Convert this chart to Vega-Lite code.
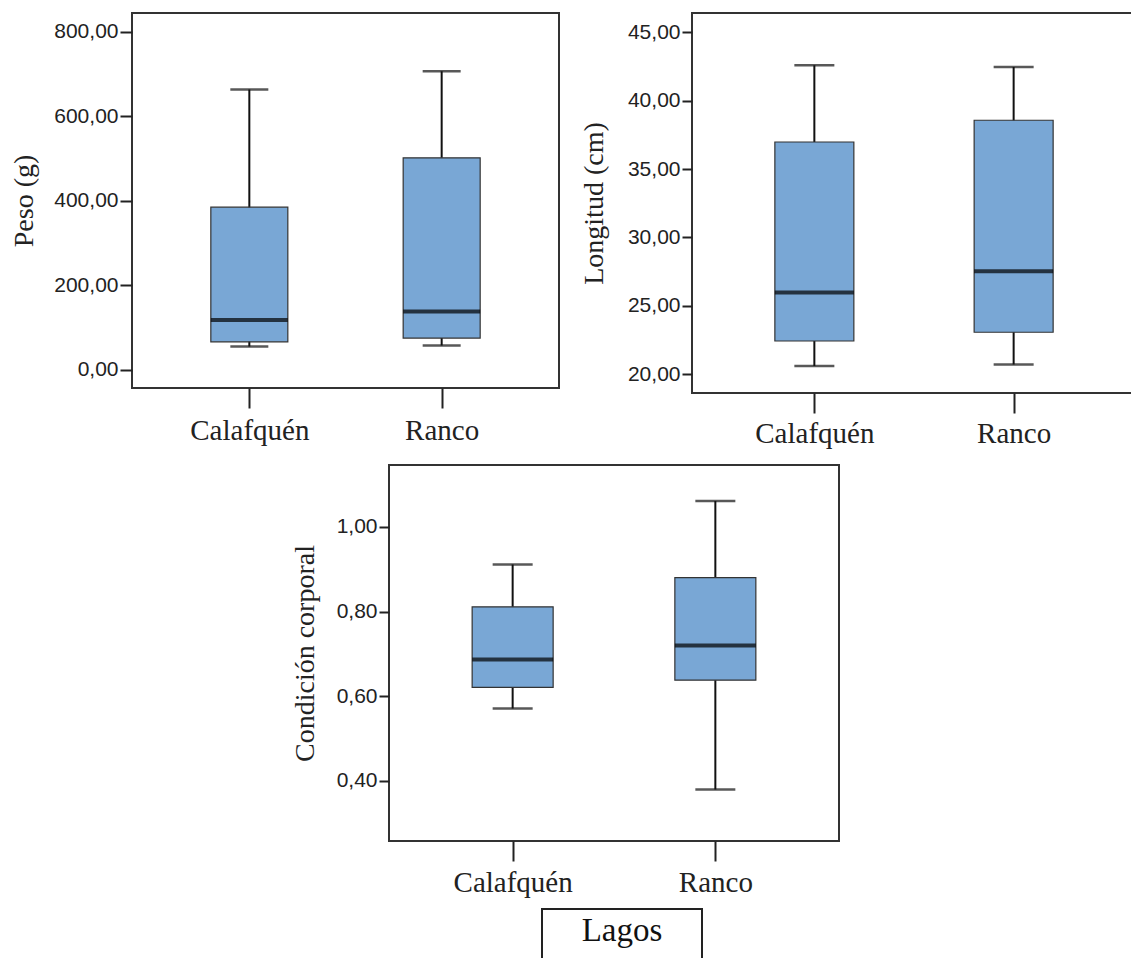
{
  "$schema": "https://vega.github.io/schema/vega-lite/v6.json",
  "padding": {"left": 9, "top": 12, "right": 0, "bottom": 0},
  "background": "white",
  "config": {
    "locale": {"number": {"decimal": ",", "thousands": ".", "grouping": [3], "currency": ["", ""]}},
    "view": {"stroke": "#333333", "strokeWidth": 2},
    "axis": {"grid": false, "domain": false, "tickColor": "#222222", "tickWidth": 2, "labelColor": "#222222", "titleColor": "#222222"}
  },
  "columns": 1, "bounds": "full", "spacing": 15,
  "concat": [
    {
      "align": "none", "bounds": "flush", "spacing": 133,
      "concat": [
        {
          "width": 427, "height": 375,
          "data": {"values": [
            {"lago": "Calafquén", "min": 55, "q1": 66, "med": 118, "q3": 385, "max": 664},
            {"lago": "Ranco", "min": 57.5, "q1": 75, "med": 138, "q3": 502, "max": 707}
          ]},
          "encoding": {"x": {"field": "lago", "type": "nominal", "scale": {"type": "point", "padding": 0.61}, "axis": {"title": null, "labelAngle": 0, "labelFont": "Liberation Serif", "labelFontSize": 29, "tickSize": 20, "labelPadding": 8}}},
          "layer": [
            {"mark": {"type": "rule", "color": "#111111", "strokeWidth": 2},
             "encoding": {"y": {"field": "min", "type": "quantitative", "title": "Peso (g)", "scale": {"domain": [-43.3, 845], "nice": false, "zero": false}, "axis": {"values": [0, 200, 400, 600, 800], "format": ".2f", "labelFont": "Liberation Sans", "labelFontSize": 21, "tickSize": 12, "labelPadding": 2, "titleFont": "Liberation Serif", "titleFontSize": 28, "titleFontWeight": "normal", "titlePadding": 15}}, "y2": {"field": "max"}}},
            {"mark": {"type": "tick", "color": "#111111", "thickness": 2.5, "size": 38},
             "encoding": {"y": {"field": "min", "type": "quantitative", "title": "Peso (g)", "scale": {"domain": [-43.3, 845], "nice": false, "zero": false}}}},
            {"mark": {"type": "tick", "color": "#111111", "thickness": 2.5, "size": 38},
             "encoding": {"y": {"field": "max", "type": "quantitative", "title": "Peso (g)", "scale": {"domain": [-43.3, 845], "nice": false, "zero": false}}}},
            {"mark": {"type": "bar", "size": 77, "fill": "#79a7d5", "stroke": "#333333", "strokeWidth": 1.2},
             "encoding": {"y": {"field": "q1", "type": "quantitative", "title": "Peso (g)", "scale": {"domain": [-43.3, 845], "nice": false, "zero": false}}, "y2": {"field": "q3"}}},
            {"mark": {"type": "tick", "color": "#000000", "thickness": 4, "size": 77},
             "encoding": {"y": {"field": "med", "type": "quantitative", "title": "Peso (g)", "scale": {"domain": [-43.3, 845], "nice": false, "zero": false}}}}
          ]
        },
        {
          "width": 444, "height": 380,
          "data": {"values": [
            {"lago": "Calafquén", "min": 20.61, "q1": 22.43, "med": 25.97, "q3": 36.98, "max": 42.59},
            {"lago": "Ranco", "min": 20.71, "q1": 23.07, "med": 27.53, "q3": 38.57, "max": 42.46}
          ]},
          "encoding": {"x": {"field": "lago", "type": "nominal", "scale": {"type": "point", "padding": 0.614}, "axis": {"title": null, "labelAngle": 0, "labelFont": "Liberation Serif", "labelFontSize": 29, "tickSize": 20, "labelPadding": 6}}},
          "layer": [
            {"mark": {"type": "rule", "color": "#111111", "strokeWidth": 2},
             "encoding": {"y": {"field": "min", "type": "quantitative", "title": "Longitud (cm)", "scale": {"domain": [18.63, 46.41], "nice": false, "zero": false}, "axis": {"values": [20, 25, 30, 35, 40, 45], "format": ".2f", "labelFont": "Liberation Sans", "labelFontSize": 21, "tickSize": 10, "labelPadding": 2, "titleFont": "Liberation Serif", "titleFontSize": 28, "titleFontWeight": "normal", "titlePadding": 19}}, "y2": {"field": "max"}}},
            {"mark": {"type": "tick", "color": "#111111", "thickness": 2.5, "size": 40},
             "encoding": {"y": {"field": "min", "type": "quantitative", "title": "Longitud (cm)", "scale": {"domain": [18.63, 46.41], "nice": false, "zero": false}}}},
            {"mark": {"type": "tick", "color": "#111111", "thickness": 2.5, "size": 40},
             "encoding": {"y": {"field": "max", "type": "quantitative", "title": "Longitud (cm)", "scale": {"domain": [18.63, 46.41], "nice": false, "zero": false}}}},
            {"mark": {"type": "bar", "size": 79, "fill": "#79a7d5", "stroke": "#333333", "strokeWidth": 1.2},
             "encoding": {"y": {"field": "q1", "type": "quantitative", "title": "Longitud (cm)", "scale": {"domain": [18.63, 46.41], "nice": false, "zero": false}}, "y2": {"field": "q3"}}},
            {"mark": {"type": "tick", "color": "#000000", "thickness": 4, "size": 79},
             "encoding": {"y": {"field": "med", "type": "quantitative", "title": "Longitud (cm)", "scale": {"domain": [18.63, 46.41], "nice": false, "zero": false}}}}
          ]
        }
      ]
    },
    {
      "columns": 1, "bounds": "full", "spacing": 10,
      "concat": [
        {
          "align": "none", "bounds": "flush", "spacing": 0,
          "concat": [
            {"width": 257, "height": 10, "data": {"values": []}, "mark": {"type": "point", "opacity": 0}, "view": {"stroke": null}},
            {
              "width": 450, "height": 376,
              "data": {"values": [
                {"lago": "Calafquén", "min": 0.571, "q1": 0.621, "med": 0.687, "q3": 0.811, "max": 0.911},
                {"lago": "Ranco", "min": 0.380, "q1": 0.638, "med": 0.720, "q3": 0.880, "max": 1.061}
              ]},
              "encoding": {"x": {"field": "lago", "type": "nominal", "scale": {"type": "point", "padding": 0.61}, "axis": {"title": null, "labelAngle": 0, "labelFont": "Liberation Serif", "labelFontSize": 29, "tickSize": 20, "labelPadding": 7}}},
              "layer": [
                {"mark": {"type": "rule", "color": "#111111", "strokeWidth": 2},
                 "encoding": {"y": {"field": "min", "type": "quantitative", "title": "Condición corporal", "scale": {"domain": [0.2583, 1.1458], "nice": false, "zero": false}, "axis": {"values": [0.4, 0.6, 0.8, 1.0], "format": ".2f", "labelFont": "Liberation Sans", "labelFontSize": 21, "tickSize": 10, "labelPadding": 2, "titleFont": "Liberation Serif", "titleFontSize": 28, "titleFontWeight": "normal", "titlePadding": 17}}, "y2": {"field": "max"}}},
                {"mark": {"type": "tick", "color": "#111111", "thickness": 2.5, "size": 40},
                 "encoding": {"y": {"field": "min", "type": "quantitative", "title": "Condición corporal", "scale": {"domain": [0.2583, 1.1458], "nice": false, "zero": false}}}},
                {"mark": {"type": "tick", "color": "#111111", "thickness": 2.5, "size": 40},
                 "encoding": {"y": {"field": "max", "type": "quantitative", "title": "Condición corporal", "scale": {"domain": [0.2583, 1.1458], "nice": false, "zero": false}}}},
                {"mark": {"type": "bar", "size": 81, "fill": "#79a7d5", "stroke": "#333333", "strokeWidth": 1.2},
                 "encoding": {"y": {"field": "q1", "type": "quantitative", "title": "Condición corporal", "scale": {"domain": [0.2583, 1.1458], "nice": false, "zero": false}}, "y2": {"field": "q3"}}},
                {"mark": {"type": "tick", "color": "#000000", "thickness": 4, "size": 81},
                 "encoding": {"y": {"field": "med", "type": "quantitative", "title": "Condición corporal", "scale": {"domain": [0.2583, 1.1458], "nice": false, "zero": false}}}}
              ]
            }
          ]
        },
        {
          "align": "none", "bounds": "flush", "spacing": 0,
          "concat": [
            {"width": 410, "height": 10, "data": {"values": []}, "mark": {"type": "point", "opacity": 0}, "view": {"stroke": null}},
            {
              "width": 160, "height": 52,
              "view": {"stroke": null},
              "data": {"values": [{"label": "Lagos"}]},
              "layer": [
                {"mark": {"type": "rect", "fill": "white", "fillOpacity": 0, "stroke": "#222222", "strokeWidth": 2}, "encoding": {}},
                {"mark": {"type": "text", "font": "Liberation Serif", "fontSize": 33, "color": "#111111", "baseline": "alphabetic", "dy": 6}, "encoding": {"text": {"field": "label", "type": "nominal"}}}
              ]
            }
          ]
        }
      ]
    }
  ]
}
